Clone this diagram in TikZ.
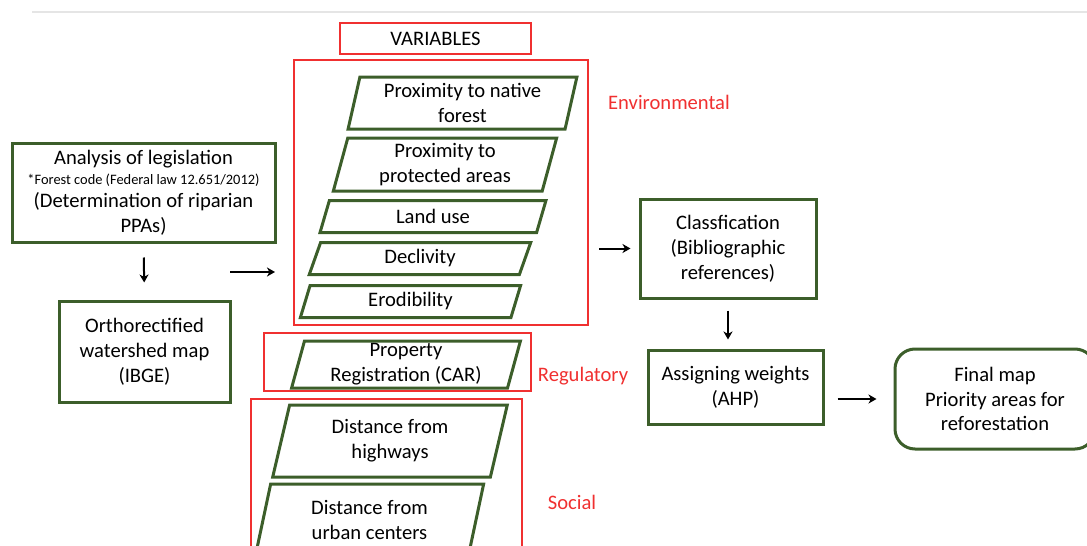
\documentclass[tikz,border=0pt]{standalone}
\usepackage{fontspec}
\setmainfont{Carlito}
\usetikzlibrary{shapes.geometric, arrows.meta}

\definecolor{boxgreen}{RGB}{60,94,42}
\definecolor{grpred}{RGB}{240,48,48}

\tikzstyle{block}=[rectangle, draw=boxgreen, line width=1.5pt, align=center, inner sep=0pt]
\tikzstyle{varshape}=[trapezium, trapezium left angle=77, trapezium right angle=103, trapezium stretches, draw=boxgreen, line width=1.5pt, align=center, inner sep=0pt]
\tikzstyle{group}=[rectangle, draw=grpred, line width=1.4pt, inner sep=0pt]
\tikzstyle{grouplabel}=[text=grpred]
\tikzstyle{arrow}=[-{Stealth[length=4pt, width=4.5pt, inset=1.2pt]}, line width=1pt]

\begin{document}
\begin{tikzpicture}[x=0.5pt, y=-0.5pt, every node/.style={font=\fontsize{10.3}{12.4}\selectfont}]
        \useasboundingbox (0,0) rectangle (1087,546);
        \draw[gray!20, line width=0.6pt] (32,12) -- (1087,12);

        % inputs
        \node[block, minimum width=131.5pt, minimum height=49.5pt](legis) at (143.5, 192.5) {Analysis of legislation\\[-2pt]{\fontsize{7.2}{8.5}\selectfont *Forest code (Federal law 12.651/2012)}\\[-1pt](Determination of riparian\\PPAs)};
        \node[block, minimum width=85.5pt, minimum height=50.5pt](ortho) at (144.5, 351.5) {Orthorectified\\watershed map\\(IBGE)};

        % groups of variables
        \node[group, minimum width=95.5pt, minimum height=15.5pt](vars) at (435.5, 38.5) {VARIABLES};
        \node[group, minimum width=147pt, minimum height=132.5pt](env) at (441, 192.5) {};
        \node[group, minimum width=133.5pt, minimum height=29pt](reg) at (397.5, 362) {};
        \node[group, minimum width=135.5pt, minimum height=80.5pt](soc) at (386.5, 479.5) {};

        \node[grouplabel](envlabel) at (669, 102) {Environmental};
        \node[grouplabel](reglabel) at (583, 376) {Regulatory};
        \node[grouplabel](soclabel) at (572, 502) {Social};

        \node[varshape, minimum width=114.5pt, minimum height=26pt](native) at (462.5, 103) {Proximity to native\\forest};
        \node[varshape, minimum width=112pt, minimum height=26.5pt](protected) at (445, 164.5) {Proximity to\\protected areas};
        \node[varshape, minimum width=113pt, minimum height=16pt](landuse) at (433, 216.5) {Land use};
        \node[varshape, minimum width=111pt, minimum height=16pt](decl) at (420, 258.5) {Declivity};
        \node[varshape, minimum width=110.5pt, minimum height=16pt](erod) at (410.5, 301.5) {Erodibility};
        \node[varshape, minimum width=115pt, minimum height=23.5pt](car) at (406, 364.5) {Property\\Registration (CAR)};
        \node[varshape, minimum width=118pt, minimum height=36pt](highways) at (390, 441) {Distance from\\highways};
        \node[varshape, minimum width=114.5pt, minimum height=36pt](urban) at (369.5, 520) {Distance from\\urban centers};

        % processing
        \node[block, minimum width=88pt, minimum height=49.5pt](classif) at (728, 248.5) {Classfication\\(Bibliographic\\references)};
        \node[block, minimum width=87.5pt, minimum height=37pt](weights) at (735.5, 387) {Assigning weights\\(AHP)};
        \node[block, rounded corners=10pt, minimum width=100pt, minimum height=50pt](final) at (995, 399) {Final map\\Priority areas for\\reforestation};

        \coordinate (from) at (230, 272);
        \coordinate (to) at (275, 272);

        \begin{scope}[every path/.style={arrow}]
            \draw[shorten <=7pt, shorten >=8.5pt] (legis.south) -- (ortho.north);
            \draw (from) -- (to);
            \draw[shorten <=5pt, shorten >=4pt] (env.east |- classif.west) -- (classif.west);
            \draw[shorten <=5.5pt, shorten >=4.5pt] (classif.south) -- (classif.south |- weights.north);
            \draw[shorten <=6.5pt, shorten >=8.5pt] (weights.east |- final.west) -- (final.west);
        \end{scope}
    \end{tikzpicture}
\end{document}
